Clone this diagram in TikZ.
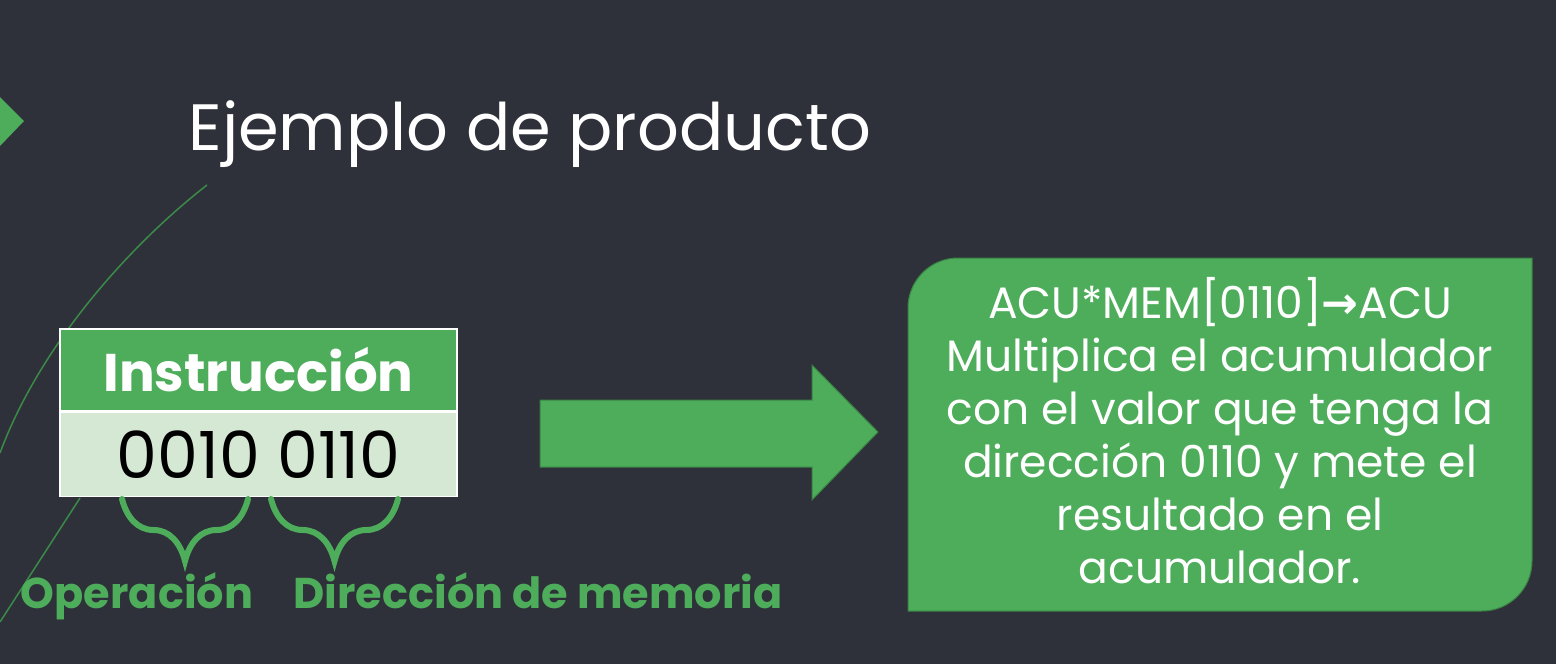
\documentclass[tikz,border=0pt]{standalone}
\usepackage{fontspec}
\setmainfont{Poppins}
\newfontfamily\flechafont{DejaVu Sans}
\usetikzlibrary{positioning, decorations.pathreplacing}

\definecolor{fondo}{HTML}{2E3139}
\definecolor{verde}{HTML}{4EAD5B}
\definecolor{verdeclaro}{HTML}{D5E8D4}
\definecolor{linea}{HTML}{3B8A48}

\tikzset{
  celda/.style={draw=white, line width=1.5pt, minimum width=397pt, inner sep=0pt},
  llave/.style={draw=verde, line width=6pt, line cap=round, decoration={brace, mirror, amplitude=62pt}, decorate},
  etiqueta/.style={anchor=base, text=verde, font=\bfseries\fontsize{43}{43}\selectfont},
}

\begin{document}
\begin{tikzpicture}[x=1pt, y=-1pt]
% Fondo
\fill[fondo] (0,0) rectangle (1556,664);
\useasboundingbox (0,0) rectangle (1556,664);

% Adornos
\fill[verde] (0,97) -- (24,121) -- (0,146) -- cycle;
\draw[linea, line width=1.5pt] (207,185) .. controls (130,245) and (40,345) .. (0,453);
\draw[linea, line width=1.5pt] (80,498) -- (0,622);

% Titulo
\node[anchor=base west, text=white, font=\fontsize{65.5}{65.5}\selectfont] (titulo) at (185,150) {Ejemplo de producto};

% Instruccion
\node[celda, fill=verde, minimum height=82pt, text=white, font=\bfseries\fontsize{53}{53}\selectfont] (instr) at (258.5,370) {Instrucción};
\node[celda, fill=verdeclaro, minimum height=84pt, font=\fontsize{65}{65}\selectfont, below=0pt of instr] (bits) {0010 0110};

% Llaves
\coordinate (opA) at (122,499);
\coordinate (opB) at (248,499);
\coordinate (dirA) at (271,499);
\coordinate (dirB) at (398,499);
\draw[llave] (opA) -- (opB);
\draw[llave] (dirA) -- (dirB);
\node[etiqueta] (op) at (137,608) {Operación};
\node[etiqueta] (dir) at (538,608) {Dirección de memoria};

% Flecha
\fill[verde, draw=verde!75!black, line width=1pt] (540,400) -- (812,400) -- (812,365) -- (878,432) -- (812,500) -- (812,467) -- (540,467) -- cycle;

% Resultado
\fill[verde, draw=verde!75!black, line width=1pt] (908,611) -- (908,308) arc[start angle=180, end angle=270, radius=50] -- (1532,258) -- (1532,561) arc[start angle=0, end angle=90, radius=50] -- cycle;
\node[text=white, align=center, font=\fontsize{44}{53}\selectfont] (desc) at (1220,431) {ACU*MEM[0110]{\flechafont\bfseries →}ACU\\ Multiplica el acumulador\\ con el valor que tenga la\\ dirección 0110 y mete el\\ resultado en el\\ acumulador.};
\end{tikzpicture}
\end{document}
